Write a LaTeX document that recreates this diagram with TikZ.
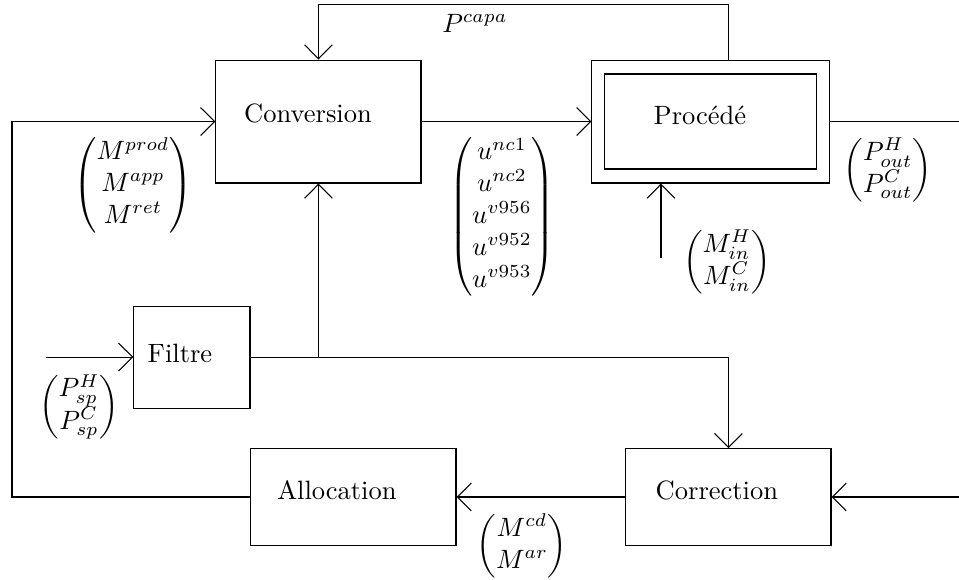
\documentclass[tikz,border=0pt]{standalone}
\usepackage{amsmath}
\usepackage{fontspec}
\usepackage{tikz}
\usetikzlibrary{arrows.meta,positioning,calc}
\tikzset{
  block/.style = {draw, rectangle, minimum width=2.72cm, minimum height=1.28cm},
  sig/.style   = {-{Straight Barb[length=5.3pt,width=10.5pt]}},
}

\begin{document}
\begin{tikzpicture}[x=1cm,y=1cm]
\useasboundingbox (0,0) rectangle (12.72,7.68);
% blocks
\node[block, minimum height=1.63cm] (conv) at (4.224,6.068) {};
\node at (4.085,6.18) {Conversion};
\node[draw, rectangle, minimum width=3.157cm, minimum height=1.63cm] (proc) at (9.43,6.068) {};
\node[draw, rectangle, minimum width=2.812cm, minimum height=1.26cm] (procin) at (9.43,6.068) {};
\node at (9.284,6.154) {Procédé};
\node[block, minimum width=1.54cm, minimum height=1.353cm] (filt) at (2.546,2.944) {};
\node at (2.387,2.997) {Filtre};
\node[block] (alloc) at (4.688,1.088) {};
\node at (4.469,1.18) {Allocation};
\node[block] (corr) at (9.662,1.088) {};
\node at (9.509,1.18) {Correction};

% free ends
\coordinate (lft) at (0.159,1.088);
\coordinate (ptop) at (corr.center |- proc.north);
\coordinate (pout) at (12.72,6.068);
\coordinate (min) at (8.767,4.257);
\coordinate (fin) at (0.61,2.944);
\coordinate (cin) at (12.72,1.088);
\coordinate (junc) at (conv.south |- filt.east);

% connectors
\draw[sig] (conv) -- (proc);
\draw[sig] (ptop) -- ++(0,0.73) -| (conv.north);
\draw (proc.east) -- (pout);
\draw[sig] (min) -- (min |- proc.south);
\draw[sig] (fin) -- (filt.west);
\draw[sig] (filt.east) -| (corr.north);
\draw[sig] (junc) -- (conv.south);
\draw[sig] (cin) -- (corr.east);
\draw[sig] (corr.west) -- (alloc.east);
\draw[sig] (alloc.west) -- (lft) |- (conv.west);

% labels
\node at (6.3,7.374) {$P^{capa}$};
\node at (11.777,5.424) {$\begin{pmatrix} P^H_{out} \\ P^C_{out} \end{pmatrix}$};
\node at (9.642,4.204) {$\begin{pmatrix} M^H_{in} \\ M^C_{in} \end{pmatrix}$};
\node at (6.658,4.801) {$\begin{pmatrix} u^{nc1} \\ u^{nc2} \\ u^{v956} \\ u^{v952} \\ u^{v953} \end{pmatrix}$};
\node at (1.764,5.225) {$\begin{pmatrix} M^{prod} \\ M^{app} \\ M^{ret} \end{pmatrix}$};
\node at (1.048,2.281) {$\begin{pmatrix} P^H_{sp} \\ P^C_{sp} \end{pmatrix}$};
\node at (6.923,0.438) {$\begin{pmatrix} M^{cd} \\ M^{ar} \end{pmatrix}$};
\end{tikzpicture}
\end{document}
